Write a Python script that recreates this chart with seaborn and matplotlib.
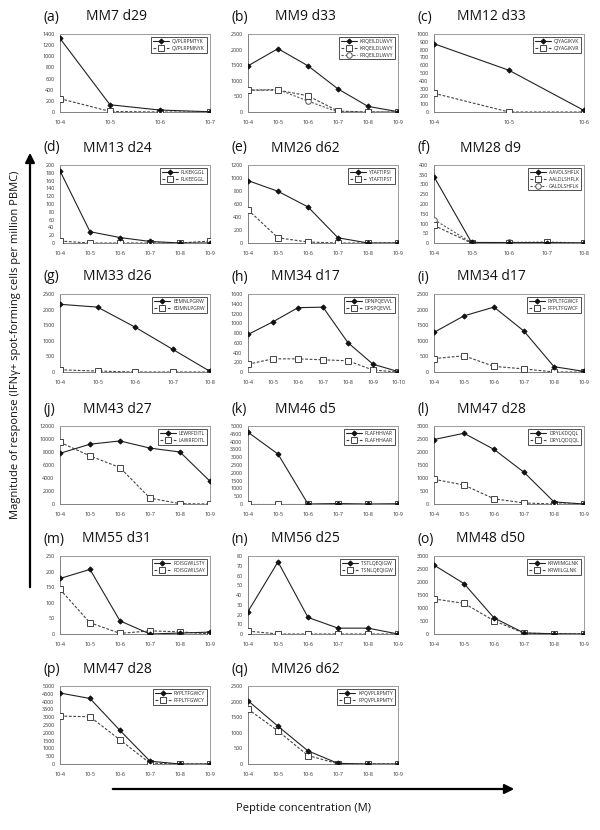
import numpy as np
import pandas as pd
import matplotlib
matplotlib.use("Agg")
import matplotlib.pyplot as plt
import seaborn as sns
from matplotlib.patches import FancyArrowPatch

# ---------------- data ----------------
CONC = ["10-4", "10-5", "10-6", "10-7", "10-8", "10-9", "10-10"]

PANEL_LETTERS = ["(a)", "(b)", "(c)", "(d)", "(e)", "(f)", "(g)", "(h)", "(i)",
                 "(j)", "(k)", "(l)", "(m)", "(n)", "(o)", "(p)", "(q)"]
PANEL_TITLES = ["MM7 d29", "MM9 d33", "MM12 d33", "MM13 d24", "MM26 d62", "MM28 d9",
                "MM33 d26", "MM34 d17", "MM34 d17", "MM43 d27", "MM46 d5", "MM47 d28",
                "MM55 d31", "MM56 d25", "MM48 d50", "MM47 d28", "MM26 d62"]
Y_MAX = [1400, 2500, 1000, 200, 1200, 400, 2500, 1600, 2500, 12000, 5000, 3000,
         250, 80, 3000, 5000, 2500]
Y_STEP = [200, 500, 100, 20, 200, 50, 500, 200, 500, 2000, 500, 500,
          50, 10, 500, 500, 500]

A_PEPTIDES = ["QVPLRPMTYK", "QVPLRPMNYK"]
A_VALUES = [[1320, 130, 35, 5], [240, 10, 0, 0]]

B_PEPTIDES = ["KRQEILDLWVY", "KRQEILDLWVY", "RRQEILDLWVY"]
B_VALUES = [[1480, 2030, 1480, 740, 180, 10], [700, 700, 520, 30, 0, 0],
            [700, 720, 350, 0, 0, 0]]

C_PEPTIDES = ["QIYAGIKVK", "QIYAGIKVR"]
C_VALUES = [[875, 535, 20], [240, 0, 0]]

D_PEPTIDES = ["FLKEKGGL", "FLKEEGGL"]
D_VALUES = [[185, 29, 14, 4, 0, 0], [5, 0, 0, 0, 0, 5]]

E_PEPTIDES = ["YTAFTIPSI", "YTAFTIPST"]
E_VALUES = [[960, 795, 555, 80, 0, 0], [510, 80, 15, 0, 0, 0]]

F_PEPTIDES = ["AAVDLSHFLK", "AALDLSHFLK", "GALDLSHFLK"]
F_VALUES = [[340, 3, 2, 2, 0], [90, 0, 0, 3, 0], [120, 2, 3, 5, 0]]

G_PEPTIDES = ["EEMNLPGRW", "EDMNLPGRW"]
G_VALUES = [[2170, 2080, 1440, 730, 20], [70, 30, 0, 0, 0]]

H_PEPTIDES = ["DPNPQEVVL", "DPSPQEVVL"]
H_VALUES = [[770, 1030, 1320, 1330, 600, 160, 10], [160, 270, 270, 250, 230, 40, 0]]

I_PEPTIDES = ["RYPLTFGWCF", "RFPLTFGWCF"]
I_VALUES = [[1270, 1800, 2080, 1310, 170, 20], [430, 520, 180, 100, 0, 0]]

J_PEPTIDES = ["LEWRFDITL", "LAWRFDITL"]
J_VALUES = [[7800, 9200, 9700, 8600, 8000, 3500], [9500, 7400, 5600, 900, 50, 0]]

K_PEPTIDES = ["RLAFHHVAR", "RLAFHHAAR"]
K_VALUES = [[4600, 3200, 0, 30, 0, 20], [0, 0, 0, 0, 0, 0]]

L_PEPTIDES = ["DRYLKDQQL", "DRYLQDQQL"]
L_VALUES = [[2480, 2720, 2100, 1220, 80, 0], [950, 730, 200, 40, 0, 0]]

M_PEPTIDES = ["RDISGWILSTY", "RDISGWILSAY"]
M_VALUES = [[178, 207, 42, 0, 3, 6], [143, 36, 2, 10, 7, 0]]

N_PEPTIDES = ["TSTLQEQIGW", "TSNLQEQIGW"]
N_VALUES = [[23, 74, 17, 6, 6, 0], [3, 0, 0, 0, 0, 0]]

O_PEPTIDES = ["KRWIIMGLNK", "KRWIILGLNK"]
O_VALUES = [[2650, 1940, 620, 40, 10, 0], [1350, 1180, 510, 30, 10, 0]]

P_PEPTIDES = ["RYPLTFGWCY", "RFPLTFGWCY"]
P_VALUES = [[4550, 4200, 2150, 180, 0, 0], [3070, 3030, 1550, 50, 0, 0]]

Q_PEPTIDES = ["KPQVPLRPMTY", "RPQVPLRPMTY"]
Q_VALUES = [[2030, 1210, 420, 20, 0, 0], [1760, 1060, 270, 10, 0, 0]]

ALL_PEPTIDES = [A_PEPTIDES, B_PEPTIDES, C_PEPTIDES, D_PEPTIDES, E_PEPTIDES, F_PEPTIDES,
                G_PEPTIDES, H_PEPTIDES, I_PEPTIDES, J_PEPTIDES, K_PEPTIDES, L_PEPTIDES,
                M_PEPTIDES, N_PEPTIDES, O_PEPTIDES, P_PEPTIDES, Q_PEPTIDES]
ALL_VALUES = [A_VALUES, B_VALUES, C_VALUES, D_VALUES, E_VALUES, F_VALUES,
              G_VALUES, H_VALUES, I_VALUES, J_VALUES, K_VALUES, L_VALUES,
              M_VALUES, N_VALUES, O_VALUES, P_VALUES, Q_VALUES]

Y_LABEL = "Magnitude of response (IFN\u03b3+ spot-forming cells per million PBMC)"
X_LABEL = "Peptide concentration (M)"

# ---------------- style ----------------
sns.set_theme(style="white")
plt.rcParams["font.family"] = ["Open Sans", "DejaVu Sans"]

W, H = 600, 830
fig = plt.figure(figsize=(W / 100, H / 100), dpi=100)

COL_LEFT = [60, 248, 434]
COL_W = 150
ROW_TOP = [34, 165, 294, 426, 556, 686]
ROW_H = 78

SERIES_STYLE = [
    dict(color="#222222", linestyle="-", marker="D", markersize=2.6,
         markerfacecolor="#111111", markeredgecolor="#111111"),
    dict(color="#444444", linestyle=(0, (2.5, 1.5)), marker="s", markersize=4,
         markerfacecolor="white", markeredgecolor="#444444"),
    dict(color="#555555", linestyle=(0, (2.0, 1.5)), marker="o", markersize=4,
         markerfacecolor="white", markeredgecolor="#555555"),
]

for i in range(17):
    row, col = divmod(i, 3)
    left = COL_LEFT[col]
    top = ROW_TOP[row]
    ax = fig.add_axes([left / W, 1 - (top + ROW_H) / H, COL_W / W, ROW_H / H])
    vals = ALL_VALUES[i]
    peps = ALL_PEPTIDES[i]
    n = len(vals[0])
    for k, (pep, v) in enumerate(zip(peps, vals)):
        df = pd.DataFrame({"pos": np.arange(n), "resp": v})
        sns.lineplot(data=df, x="pos", y="resp", ax=ax, label=pep, linewidth=0.8,
                     markeredgewidth=0.7, zorder=3 - k * 0.1, **SERIES_STYLE[k])
    ax.set_xlim(0, n - 1)
    ax.set_ylim(0, Y_MAX[i])
    ax.set_xticks(np.arange(n))
    ax.set_xticklabels(CONC[:n])
    ax.set_yticks(np.arange(0, Y_MAX[i] + Y_STEP[i] / 2, Y_STEP[i]))
    ax.set_xlabel("")
    ax.set_ylabel("")
    ax.tick_params(axis="both", labelsize=3.9, length=2, width=0.5, pad=2,
                   colors="#333333", direction="out")
    ax.tick_params(axis="x", pad=4)
    for s in ["top", "right"]:
        ax.spines[s].set_color("#9a9a9a")
        ax.spines[s].set_linewidth(0.7)
    for s in ["left", "bottom"]:
        ax.spines[s].set_color("#808080")
        ax.spines[s].set_linewidth(0.7)
    leg = ax.legend(loc="upper right", fontsize=3.6, frameon=True, fancybox=False,
                    edgecolor="#333333", framealpha=1, handlelength=3.2,
                    borderpad=0.4, labelspacing=0.35, handletextpad=0.6,
                    borderaxespad=0.6)
    leg.get_frame().set_linewidth(0.6)
    # panel letter and title
    fig.text((left - 16) / W, 1 - (top - 17) / H, PANEL_LETTERS[i], fontsize=10,
             ha="left", va="center", color="#111111")
    fig.text((left + 57) / W, 1 - (top - 17) / H, PANEL_TITLES[i], fontsize=10,
             ha="center", va="center", color="#111111")

# vertical axis arrow and label
fig.add_artist(FancyArrowPatch((30 / W, 1 - 590 / H), (30 / W, 1 - 150 / H),
                               transform=fig.transFigure, arrowstyle="-|>",
                               mutation_scale=14, linewidth=1.6, color="black"))
fig.text(16 / W, 1 - 345 / H, Y_LABEL, rotation=90, fontsize=8, ha="center",
         va="center", color="#111111")

# horizontal axis arrow and label
fig.add_artist(FancyArrowPatch((110 / W, 1 - 789 / H), (517 / W, 1 - 789 / H),
                               transform=fig.transFigure, arrowstyle="-|>",
                               mutation_scale=14, linewidth=1.6, color="black"))
fig.text(303 / W, 1 - 808 / H, X_LABEL, fontsize=8, ha="center", va="center",
         color="#111111")

fig.savefig("out.png", dpi=100, facecolor="white")
